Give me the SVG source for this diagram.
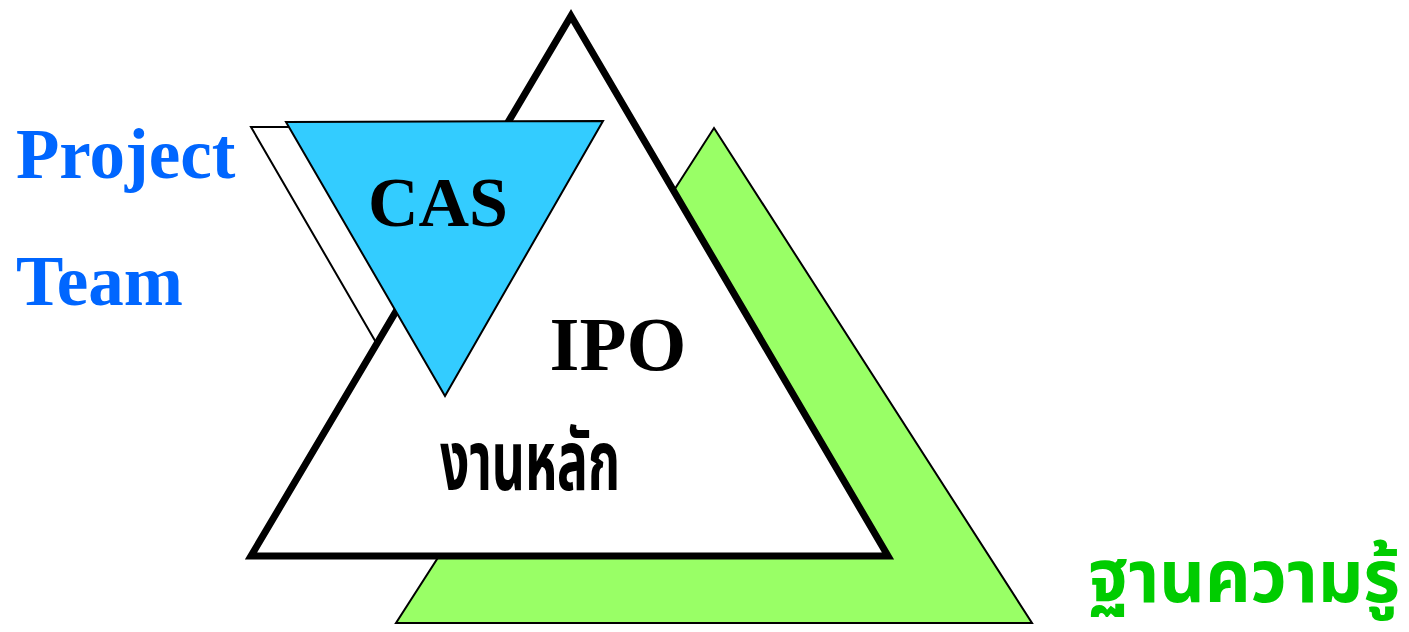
<svg xmlns="http://www.w3.org/2000/svg" width="1409" height="632" viewBox="0 0 1409 632">
<style>
.en{font-family:"Liberation Serif","Times New Roman",serif;font-weight:bold}
.th{font-family:"Noto Sans Thai","Noto Sans","DejaVu Sans",sans-serif;font-weight:bold}
.thin{stroke:#000;stroke-width:2;stroke-linejoin:miter}
</style>
<rect width="1409" height="632" fill="#fff"/>
<g id="knowledge">
<polygon class="thin" points="714,128 1032,623 396,623" fill="#99FF66"/>
</g>
<g id="team-shape">
<polygon class="thin" points="251,127 568,127 410,401" fill="#fff"/>
</g>
<g id="ipo">
<polygon points="571,16 888,556 251,556" fill="#fff" stroke="#000" stroke-width="7" stroke-linejoin="miter"/>
<text class="en" x="618" y="370" font-size="77" text-anchor="middle" fill="#000">IPO</text>
<text class="th" x="530" y="490" font-size="84" text-anchor="middle" fill="#000" textLength="180" lengthAdjust="spacingAndGlyphs">งานหลัก</text>
</g>
<g id="cas">
<polygon class="thin" points="286,122 603,121 445,396" fill="#33CCFF"/>
<text class="en" x="438" y="226" font-size="70" text-anchor="middle" fill="#000">CAS</text>
</g>
<g id="labels">
<text class="en" x="16" y="178" font-size="71" fill="#0066FF">Project</text>
<text class="en" x="16" y="305" font-size="71" fill="#0066FF">Team</text>
<text class="th" x="1088" y="602" font-size="72" fill="#00CC00" textLength="312" lengthAdjust="spacingAndGlyphs">ฐานความรู้</text>
</g>
<g id="connectors"/>
</svg>
